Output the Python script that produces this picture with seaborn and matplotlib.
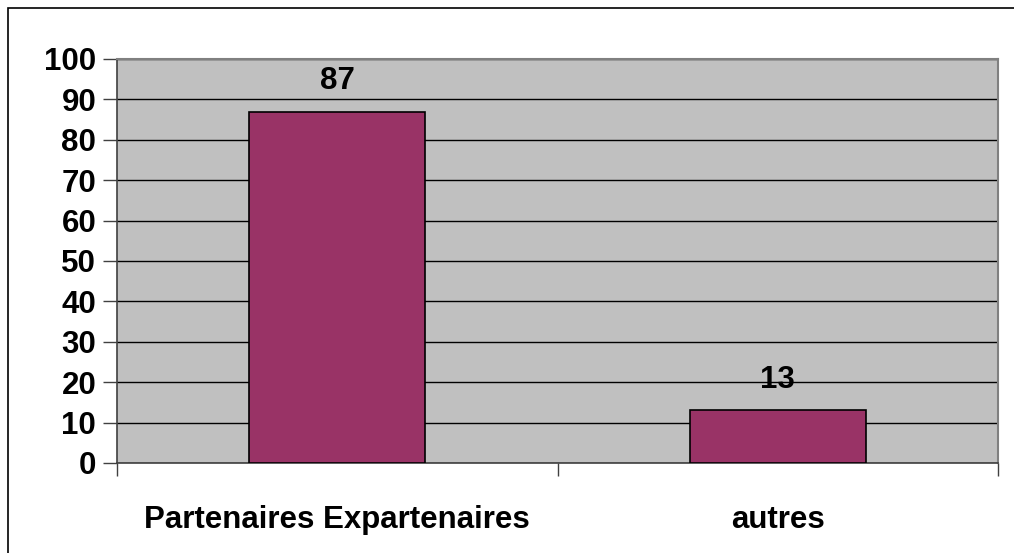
import matplotlib
matplotlib.use("Agg")
import matplotlib.pyplot as plt
import seaborn as sns
import pandas as pd
from matplotlib.patches import Rectangle

categories = ["Partenaires Expartenaires", "autres"]
values = [87, 13]
yticks = [0, 10, 20, 30, 40, 50, 60, 70, 80, 90, 100]

sns.set_theme(style="white")
plt.rcParams["font.family"] = ["Liberation Sans", "DejaVu Sans"]
plt.rcParams["font.weight"] = "bold"
plt.rcParams["text.color"] = "black"
plt.rcParams["xtick.color"] = "black"
plt.rcParams["ytick.color"] = "black"

df = pd.DataFrame({"cat": categories, "val": values})

fig = plt.figure(figsize=(10.14, 5.53), dpi=100)
ax = fig.add_axes([117 / 1014, 1 - 463 / 553, 881 / 1014, 404 / 553])

# outer frame of the chart
fig.patches.append(Rectangle((8 / 1014, -0.05), 1.2, 1 - 8 / 553 + 0.05,
                             transform=fig.transFigure, fill=False,
                             edgecolor="black", linewidth=1.2))

ax.set_facecolor("#C0C0C0")
sns.barplot(data=df, x="cat", y="val", ax=ax, color="#993366",
            saturation=1, width=0.4, edgecolor="black", linewidth=1.2,
            zorder=3)

FS = 22.5

ax.set_ylim(0, 100)
ax.set_xlim(-0.5, 1.5)
ax.set_yticks(yticks)
ax.set_yticklabels([str(t) for t in yticks], fontsize=FS, fontweight="bold",
                   color="black")
ax.yaxis.grid(True, color="black", linewidth=1.0, zorder=1)
ax.set_axisbelow(True)

# category tick marks sit on category boundaries
ax.set_xticks([-0.5, 0.5, 1.5], minor=False)
ax.set_xticklabels([])
ax.set_xticks([0, 1], minor=True)
ax.set_xticklabels(categories, minor=True, fontsize=FS, fontweight="bold",
                   color="black")
ax.tick_params(axis="x", which="minor", length=0, pad=30)
ax.tick_params(axis="x", which="major", length=9, width=1, color="#404040",
               direction="out", bottom=True)
ax.tick_params(axis="y", length=10, width=1, color="#404040",
               direction="out", left=True, pad=5)

ax.set_xlabel("")
ax.set_ylabel("")

for side in ["top", "right"]:
    ax.spines[side].set_color("#808080")
    ax.spines[side].set_linewidth(1.5)
ax.spines["left"].set_color("#404040")
ax.spines["bottom"].set_color("#404040")
ax.spines["left"].set_linewidth(1.2)
ax.spines["bottom"].set_linewidth(1.2)

for i, v in enumerate(values):
    ax.text(i, v + 5.5, str(v), ha="center", va="baseline", color="black",
            fontsize=FS, fontweight="bold", zorder=4)

fig.savefig("out.png", dpi=100)
